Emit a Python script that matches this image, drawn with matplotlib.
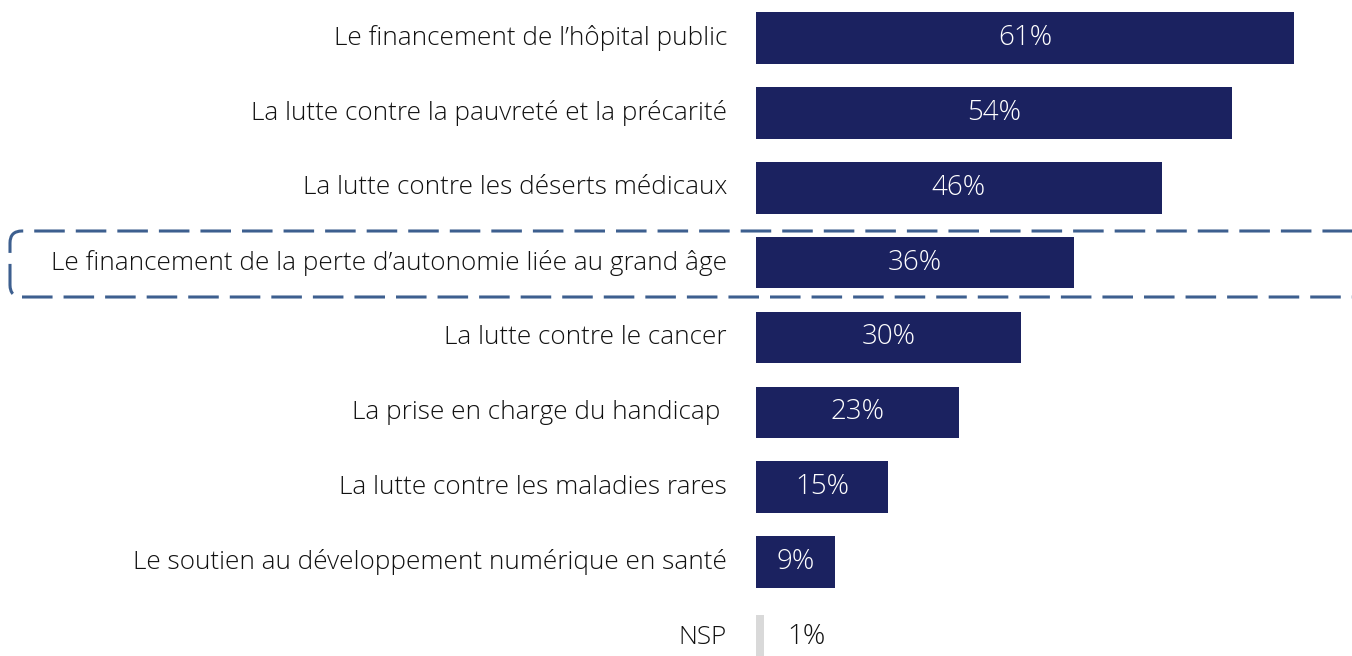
import matplotlib.pyplot as plt
from matplotlib.patches import FancyBboxPatch

# Data
categories = [
    "Le financement de l\u2019hôpital public",
    "La lutte contre la pauvreté et la précarité",
    "La lutte contre les déserts médicaux",
    "Le financement de la perte d\u2019autonomie liée au grand âge",
    "La lutte contre le cancer",
    "La prise en charge du handicap ",
    "La lutte contre les maladies rares",
    "Le soutien au développement numérique en santé",
    "NSP",
]
values = [61, 54, 46, 36, 30, 23, 15, 9, 1]
value_labels = ["61%", "54%", "46%", "36%", "30%", "23%", "15%", "9%", "1%"]

bar_color = "#1B2260"
nsp_color = "#D9D9D9"
box_color = "#3D5F8F"

plt.rcParams['font.family'] = ['Open Sans', 'DejaVu Sans']

W, H = 1352, 656
fig = plt.figure(figsize=(W / 100, H / 100), dpi=100)
ax = fig.add_axes([756 / W, 0, 1 - 756 / W, 1])

px_per_pct = (1294 - 756) / 61
ax.set_xlim(0, (W - 756) / px_per_pct)
step = (637 - 38) / 8
ax.set_ylim(8 + (H - 637) / step, -38 / step)
ax.axis('off')

ys = list(range(len(categories)))
colors = [bar_color] * (len(values) - 1) + [nsp_color]
heights = [0.69] * (len(values) - 1) + [0.6]
widths = values[:-1] + [8 / px_per_pct]
ax.barh(ys, widths, height=heights, color=colors)

label_x = -(756 - 727) / px_per_pct
for y, cat, v, lab in zip(ys, categories, values, value_labels):
    ax.text(label_x, y, cat, ha='right', va='center', fontsize=18.8,
            color='#111111', fontweight='light', clip_on=False)
    if cat == "NSP":
        ax.text(5.7, y, lab, ha='center', va='center', fontsize=20,
                color='#111111', fontweight='light')
    else:
        ax.text(v / 2, y, lab, ha='center', va='center', fontsize=20,
                color='white', fontweight='light')

# dashed highlight box around the 4th item
box = FancyBboxPatch((10, H - 297), 1420, 66,
                     boxstyle="round,pad=0,rounding_size=12",
                     transform=None, fill=False, edgecolor=box_color,
                     linewidth=2.2, linestyle=(0, (10, 3.6)))
fig.add_artist(box)

fig.savefig('out.png', dpi=100)
